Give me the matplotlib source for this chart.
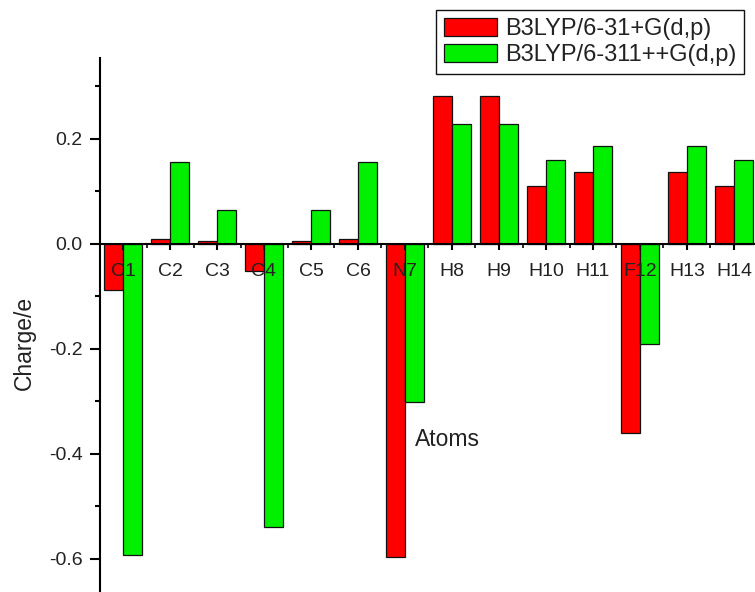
import matplotlib
matplotlib.use("Agg")
import matplotlib.pyplot as plt
import numpy as np
from matplotlib.ticker import MultipleLocator, FixedLocator, FuncFormatter

plt.rcParams["font.family"] = ["Liberation Sans", "DejaVu Sans"]

# Mulliken charges per atom for the two basis sets
atoms = ["C1", "C2", "C3", "C4", "C5", "C6", "N7",
         "H8", "H9", "H10", "H11", "F12", "H13", "H14"]
charge_631 = [-0.088, 0.010, 0.005, -0.052, 0.005, 0.010, -0.597,
              0.282, 0.282, 0.111, 0.137, -0.361, 0.137, 0.111]
charge_6311 = [-0.592, 0.156, 0.065, -0.539, 0.065, 0.156, -0.302,
               0.228, 0.228, 0.160, 0.186, -0.191, 0.186, 0.160]
series_names = ["B3LYP/6-31+G(d,p)", "B3LYP/6-311++G(d,p)"]

RED = "#FF0000"
GREEN = "#00F000"
INK = "#222222"

fig = plt.figure(figsize=(7.55, 5.92), dpi=100)
ax = fig.add_axes([99.5 / 755, 0.0, 1 - 99.5 / 755, 534 / 592])

x = np.arange(1, len(atoms) + 1)
w = 0.4
ax.bar(x - w / 2, charge_631, width=w, color=RED, edgecolor="#111111",
       linewidth=0.9, label=series_names[0])
ax.bar(x + w / 2, charge_6311, width=w, color=GREEN, edgecolor="#111111",
       linewidth=0.9, label=series_names[1])

ax.set_xlim(0.5, 1 + (755 - 123) / 47)
ax.set_ylim(-0.663, 0.354)

# x axis sits on the zero line, category labels hang below it
for side in ("top", "right"):
    ax.spines[side].set_visible(False)
ax.spines["bottom"].set_position(("data", 0))
ax.spines["bottom"].set_linewidth(1.5)
ax.spines["left"].set_linewidth(1.5)

ax.set_xticks(x)
ax.set_xticklabels(atoms)
ax.xaxis.set_minor_locator(FixedLocator(np.arange(1.5, len(atoms) + 1, 1)))
ax.tick_params(axis="x", which="major", direction="out", length=4.5, width=1.5,
               pad=9, labelsize=14, labelcolor=INK)
ax.tick_params(axis="x", which="minor", direction="out", length=3, width=1.2)

ax.yaxis.set_major_locator(MultipleLocator(0.2))
ax.yaxis.set_minor_locator(MultipleLocator(0.1))
ax.yaxis.set_major_formatter(FuncFormatter(lambda v, p: f"{v:.1f}"))
ax.tick_params(axis="y", which="major", direction="out", length=7, width=1.5,
               pad=5, labelsize=14, labelcolor=INK)
ax.tick_params(axis="y", which="minor", direction="out", length=3.6, width=1.5)

ax.set_ylabel("Charge/e", fontsize=16.5, color=INK)
ax.yaxis.set_label_coords(-(99.5 - 36) / 655.5, (592 - 343) / 534)
ax.text((415 - 99.5) / 655.5, (592 - 440) / 534, "Atoms", transform=ax.transAxes,
        ha="left", va="center", fontsize=16.5, color=INK)

leg = fig.legend(loc="upper right", bbox_to_anchor=(744 / 755, 1 - 10 / 592),
                 prop={"size": 17}, frameon=True, fancybox=False,
                 edgecolor="#111111", framealpha=1, handlelength=2.25,
                 handleheight=0.8, borderpad=0.33, labelspacing=0.15,
                 handletextpad=0.34, borderaxespad=0)
leg.get_frame().set_linewidth(1.0)
for t in leg.get_texts():
    t.set_color(INK)

fig.savefig("out.png", dpi=100, facecolor="white")
